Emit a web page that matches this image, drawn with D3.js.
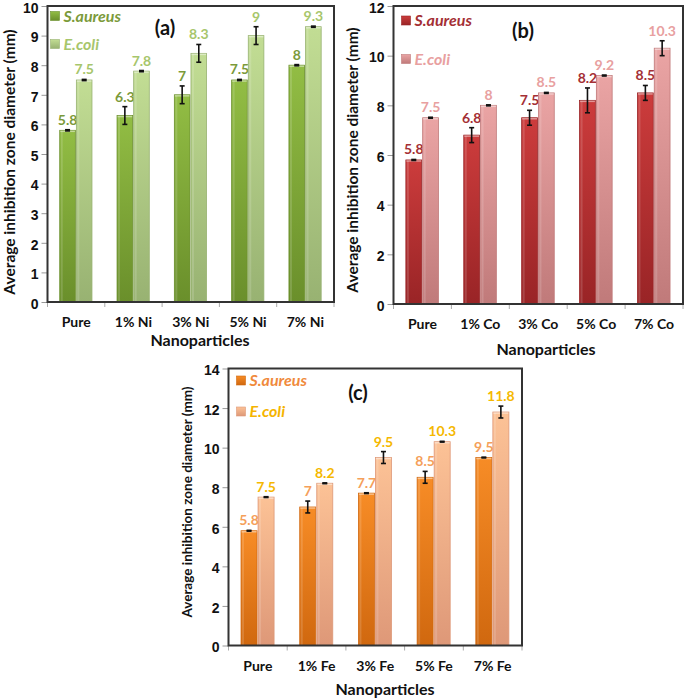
<!DOCTYPE html>
<html><head><meta charset="utf-8">
<script src="https://cdn.jsdelivr.net/npm/d3@7/dist/d3.min.js"></script>
<style>body{margin:0;background:#fff}svg{display:block;font-family:Lato,"Open Sans",sans-serif}</style>
</head><body><svg id="c" width="685" height="699"></svg>
<script>
// ---- data ----
const seriesNames = ["S.aureus", "E.coli"];

const categoriesA = ["Pure", "1% Ni", "3% Ni", "5% Ni", "7% Ni"];
const saureusA = [5.8, 6.3, 7.0, 7.5, 8.0];
const saureusErrA = [0.02, 0.3, 0.3, 0.02, 0.02];
const saureusLabelsA = ["5.8", "6.3", "7", "7.5", "8"];
const ecoliA = [7.5, 7.8, 8.4, 9.0, 9.3];
const ecoliErrA = [0.02, 0.02, 0.3, 0.3, 0.02];
const ecoliLabelsA = ["7.5", "7.8", "8.3", "9", "9.3"];
const ticksA = [0, 1, 2, 3, 4, 5, 6, 7, 8, 9, 10];

const categoriesB = ["Pure", "1% Co", "3% Co", "5% Co", "7% Co"];
const saureusB = [5.8, 6.8, 7.5, 8.2, 8.5];
const saureusErrB = [0.02, 0.3, 0.3, 0.5, 0.3];
const saureusLabelsB = ["5.8", "6.8", "7.5", "8.2", "8.5"];
const ecoliB = [7.5, 8.0, 8.5, 9.2, 10.3];
const ecoliErrB = [0.02, 0.02, 0.02, 0.02, 0.3];
const ecoliLabelsB = ["7.5", "8", "8.5", "9.2", "10.3"];
const ticksB = [0, 2, 4, 6, 8, 10, 12];

const categoriesC = ["Pure", "1% Fe", "3% Fe", "5% Fe", "7% Fe"];
const saureusC = [5.8, 7.0, 7.7, 8.5, 9.5];
const saureusErrC = [0.02, 0.3, 0.02, 0.3, 0.02];
const saureusLabelsC = ["5.8", "7", "7.7", "8.5", "9.5"];
const ecoliC = [7.5, 8.2, 9.5, 10.3, 11.8];
const ecoliErrC = [0.02, 0.02, 0.3, 0.02, 0.3];
const ecoliLabelsC = ["7.5", "8.2", "9.5", "10.3", "11.8"];
const ticksC = [0, 2, 4, 6, 8, 10, 12, 14];

// ---- drawing ----
const svg = d3.select("#c");
const defs = svg.append("defs");

function grad(id, c1, c2) {
  const g = defs.append("linearGradient").attr("id", id).attr("x1", 0).attr("y1", 0).attr("x2", 0).attr("y2", 1);
  g.append("stop").attr("offset", "0%").attr("stop-color", c1);
  g.append("stop").attr("offset", "100%").attr("stop-color", c2);
}

function panel(cfg) {
  const g = svg.append("g");
  const y = d3.scaleLinear().domain([0, cfg.ymax]).range([cfg.bottom, cfg.top]);
  const x0 = d3.scaleBand().domain(cfg.categories).range([cfg.left, cfg.right]).padding(0);
  const bw = x0.bandwidth();
  const x1 = d3.scaleBand().domain(seriesNames).range([bw * 0.205, bw * 0.785]).padding(0);

  grad(cfg.id + "s", cfg.sTop, cfg.sBot);
  grad(cfg.id + "e", cfg.eTop, cfg.eBot);

  // y axis
  const ya = d3.axisLeft(y).tickValues(cfg.ticks).tickSize(6).tickPadding(3).tickFormat(d3.format("d"));
  const yg = g.append("g").attr("transform", `translate(${cfg.left},0)`).call(ya);
  yg.select(".domain").remove();
  yg.selectAll("line").attr("stroke", "#999");
  yg.selectAll("text").attr("font-size", 14).attr("font-weight", 700).attr("fill", "#111").attr("dy", "0.45em");

  // bottom boundary ticks
  g.selectAll(".bt").data(d3.range(cfg.categories.length + 1)).join("line")
    .attr("x1", i => cfg.left + i * bw).attr("x2", i => cfg.left + i * bw)
    .attr("y1", cfg.bottom).attr("y2", cfg.bottom + 5).attr("stroke", "#aaa");

  // category labels
  g.selectAll(".cl").data(cfg.categories).join("text")
    .attr("x", d => x0(d) + bw / 2).attr("y", cfg.bottom + 25)
    .attr("text-anchor", "middle").attr("font-size", 14).attr("font-weight", 700).attr("fill", "#111")
    .text(d => d);

  const series = [
    {name: "S.aureus", vals: cfg.s, err: cfg.sErr, lab: cfg.sLab, fill: `url(#${cfg.id}s)`, stroke: cfg.sBot, lc: cfg.sLabCol},
    {name: "E.coli", vals: cfg.e, err: cfg.eErr, lab: cfg.eLab, fill: `url(#${cfg.id}e)`, stroke: cfg.eBot, lc: cfg.eLabCol}
  ];

  series.forEach(s => {
    const rows = cfg.categories.map((c, i) => ({c, v: s.vals[i], e: s.err[i], l: s.lab[i]}));
    const bx = d => x0(d.c) + x1(s.name);
    const w = x1.bandwidth();
    g.selectAll(null).data(rows).join("rect")
      .attr("x", d => bx(d) + 0.5).attr("y", d => y(d.v)).attr("width", w - 1)
      .attr("height", d => cfg.bottom - y(d.v))
      .attr("fill", s.fill).attr("stroke", s.stroke).attr("stroke-width", 0.8);
    g.selectAll(null).data(rows).join("rect")
      .attr("x", d => bx(d) + 1.5).attr("y", d => y(d.v) + 1).attr("width", 2)
      .attr("height", d => cfg.bottom - y(d.v) - 1)
      .attr("fill", "#fff").attr("opacity", 0.15);
    g.selectAll(null).data(rows).join("line")
      .attr("x1", d => bx(d) + 1).attr("x2", d => bx(d) + w - 1)
      .attr("y1", d => y(d.v) + 1).attr("y2", d => y(d.v) + 1)
      .attr("stroke", "#fff").attr("opacity", 0.45).attr("stroke-width", 1.5);
    const cx = d => bx(d) + w / 2;
    g.selectAll(null).data(rows).join("line")
      .attr("x1", cx).attr("x2", cx).attr("y1", d => y(d.v + d.e)).attr("y2", d => y(d.v - d.e))
      .attr("stroke", "#111").attr("stroke-width", 1.6);
    [1, -1].forEach(sg => {
      g.selectAll(null).data(rows).join("line")
        .attr("x1", d => cx(d) - 2.5).attr("x2", d => cx(d) + 2.5)
        .attr("y1", d => y(d.v + sg * d.e)).attr("y2", d => y(d.v + sg * d.e))
        .attr("stroke", "#111").attr("stroke-width", 1.6);
    });
    g.selectAll(null).data(rows).join("text")
      .attr("x", cx).attr("y", d => y(d.v + d.e) - 5)
      .attr("text-anchor", "middle").attr("font-size", 14).attr("font-weight", 700).attr("fill", s.lc)
      .text(d => d.l);
  });

  // frame
  g.append("rect").attr("x", cfg.left).attr("y", cfg.top).attr("width", cfg.right - cfg.left)
    .attr("height", cfg.bottom - cfg.top).attr("fill", "none").attr("stroke", "#333").attr("stroke-width", 2);

  // legend
  series.forEach((s, i) => {
    const ly = cfg.legY[i];
    g.append("rect").attr("x", cfg.legX).attr("y", ly - 4.5).attr("width", 9).attr("height", 9)
      .attr("fill", s.fill).attr("stroke", s.stroke).attr("stroke-width", 0.6);
    g.append("text").attr("x", cfg.legX + 13).attr("y", ly + 5.5)
      .attr("font-size", 16).attr("font-weight", 700).attr("font-style", "italic").attr("fill", cfg.legCol[i])
      .text(s.name);
  });

  // panel letter
  g.append("text").attr("x", cfg.tagX).attr("y", cfg.tagY).attr("text-anchor", "middle")
    .attr("font-size", 20).attr("font-weight", 700).attr("fill", "#111").text(cfg.tag);

  // titles
  g.append("text").attr("x", cfg.xtX).attr("y", cfg.xtY).attr("text-anchor", "middle")
    .attr("font-size", 16).attr("font-weight", 700).attr("fill", "#111").text("Nanoparticles");
  g.append("text").attr("transform", `translate(${cfg.ytX},${cfg.ytY}) rotate(-90)`).attr("text-anchor", "middle")
    .attr("font-size", cfg.ytSize).attr("font-weight", 700).attr("fill", "#111").text("Average inhibition zone diameter (mm)");
}

panel({id: "a", categories: categoriesA, s: saureusA, sErr: saureusErrA, sLab: saureusLabelsA,
  e: ecoliA, eErr: ecoliErrA, eLab: ecoliLabelsA, ticks: ticksA, ymax: 10,
  left: 47.5, right: 334, top: 6, bottom: 302,
  sTop: "#92bd44", sBot: "#6a8f2b", eTop: "#c2dd94", eBot: "#98b272",
  sLabCol: "#7b9a3a", eLabCol: "#a7c66c", legCol: ["#7b9a3a", "#a7c66c"],
  legX: 50.5, legY: [16, 44], tag: "(a)", tagX: 165, tagY: 35,
  xtX: 200, xtY: 346, ytX: 15, ytY: 162, ytSize: 15.5});

panel({id: "b", categories: categoriesB, s: saureusB, sErr: saureusErrB, sLab: saureusLabelsB,
  e: ecoliB, eErr: ecoliErrB, eLab: ecoliLabelsB, ticks: ticksB, ymax: 12,
  left: 393.5, right: 683, top: 6, bottom: 304,
  sTop: "#cc3c3c", sBot: "#992426", eTop: "#eaa4a4", eBot: "#c07a7a",
  sLabCol: "#a42f35", eLabCol: "#e8a0a0", legCol: ["#a42f35", "#e8a0a0"],
  legX: 401.5, legY: [20.5, 59], tag: "(b)", tagX: 523, tagY: 38,
  xtX: 546, xtY: 355, ytX: 358, ytY: 160, ytSize: 15.5});

panel({id: "cc", categories: categoriesC, s: saureusC, sErr: saureusErrC, sLab: saureusLabelsC,
  e: ecoliC, eErr: ecoliErrC, eLab: ecoliLabelsC, ticks: ticksC, ymax: 14,
  left: 228.5, right: 522, top: 368.5, bottom: 645.5,
  sTop: "#f78c26", sBot: "#d0680f", eTop: "#fcc296", eBot: "#de9878",
  sLabCol: "#f5a05a", eLabCol: "#f5b800", legCol: ["#f08a3c", "#f5b400"],
  legX: 236.5, legY: [380.5, 411.5], tag: "(c)", tagX: 358, tagY: 400,
  xtX: 385, xtY: 695, ytX: 192, ytY: 502, ytSize: 13.5});
</script></body></html>
